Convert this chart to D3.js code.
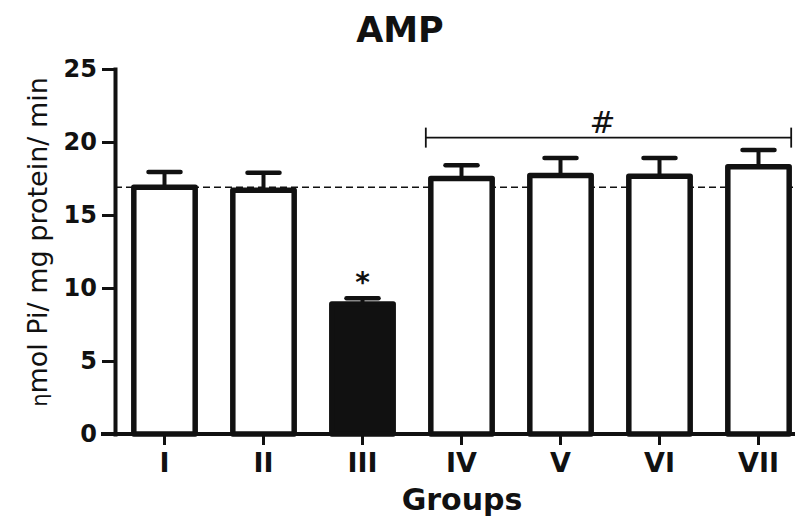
<!DOCTYPE html>
<html>
<head>
<meta charset="utf-8">
<script src="https://cdn.jsdelivr.net/npm/d3@7/dist/d3.min.js"></script>
<style>
    body { margin: 0; background: #fff; }
    text { fill: #111; }
</style>
</head>
<body>
<div id="chart"></div>
<script>
var groups = ['I', 'II', 'III', 'IV', 'V', 'VI', 'VII'];
var means = [16.9, 16.7, 8.9, 17.5, 17.7, 17.65, 18.3];
var sems = [1.05, 1.2, 0.4, 0.9, 1.2, 1.25, 1.15];
var filled = [false, false, true, false, false, false, false];
var yTicks = [0, 5, 10, 15, 20, 25];
var controlLine = 16.9;
var starGroup = 'III';
var bracketGroups = ['IV', 'VII'];
var bracketValue = 20.3;

var width = 795;
var height = 519;
var ink = '#111';

var svg = d3.select('#chart')
    .append('svg')
    .attr('width', width)
    .attr('height', height);

var xScale = d3.scaleBand()
    .domain(groups)
    .range([115, 808])
    .paddingInner(0.38)
    .paddingOuter(0.19);

var yScale = d3.scaleLinear()
    .domain([0, 25])
    .range([434, 69]);

//dashed control line, behind bars
svg.append('line')
    .attr('x1', 115)
    .attr('x2', width)
    .attr('y1', yScale(controlLine))
    .attr('y2', yScale(controlLine))
    .style('stroke', ink)
    .style('stroke-width', 1.6)
    .style('stroke-dasharray', '7,4');

//error bars
var err = svg.append('g');
groups.forEach(function(g, i) {
    var cx = xScale(g) + xScale.bandwidth() / 2;
    err.append('line')
        .attr('x1', cx).attr('x2', cx)
        .attr('y1', yScale(means[i]))
        .attr('y2', yScale(means[i] + sems[i]))
        .style('stroke', ink)
        .style('stroke-width', 4);
    err.append('line')
        .attr('x1', cx - 16).attr('x2', cx + 16)
        .attr('y1', yScale(means[i] + sems[i]))
        .attr('y2', yScale(means[i] + sems[i]))
        .style('stroke', ink)
        .style('stroke-width', 4.5)
        .style('stroke-linecap', 'round');
});

//bars
svg.append('g')
    .selectAll('rect')
    .data(groups)
    .enter()
    .append('rect')
    .attr('x', function(d) { return xScale(d); })
    .attr('y', function(d, i) { return yScale(means[i]); })
    .attr('width', xScale.bandwidth())
    .attr('height', function(d, i) { return yScale(0) - yScale(means[i]); })
    .style('fill', function(d, i) { return filled[i] ? ink : '#fff'; })
    .style('stroke', ink)
    .style('stroke-width', 5.5)
    .style('stroke-linejoin', 'round');

//y axis
var yAxis = d3.axisLeft(yScale)
    .tickValues(yTicks)
    .tickSize(13)
    .tickSizeOuter(0)
    .tickPadding(5);

var yG = svg.append('g')
    .attr('transform', 'translate(115,0)')
    .call(yAxis);
yG.select('.domain')
    .style('stroke', ink)
    .style('stroke-width', 4)
    .style('stroke-linecap', 'square');
yG.selectAll('.tick line')
    .style('stroke', ink)
    .style('stroke-width', 3);
yG.selectAll('.tick text')
    .style('font-family', 'DejaVu Sans')
    .style('font-weight', 'bold')
    .style('font-size', '24px')
    .style('fill', ink);

//x axis
var xAxis = d3.axisBottom(xScale)
    .tickSize(11)
    .tickSizeOuter(0)
    .tickPadding(8);

var xG = svg.append('g')
    .attr('transform', 'translate(0,434)')
    .call(xAxis);
xG.select('.domain').remove();
xG.append('line')
    .attr('x1', 101)
    .attr('x2', width)
    .style('stroke', ink)
    .style('stroke-width', 4);
xG.selectAll('.tick line')
    .style('stroke', ink)
    .style('stroke-width', 3);
xG.selectAll('.tick text')
    .style('font-family', 'DejaVu Sans')
    .style('font-weight', 'bold')
    .style('font-size', '27px')
    .style('fill', ink);

//axis titles
svg.append('text')
    .attr('transform', 'translate(47,242) rotate(-90)')
    .attr('text-anchor', 'middle')
    .style('font-family', 'DejaVu Sans')
    .style('font-size', '27px')
    .html('<tspan style="font-size:21px">η</tspan>mol Pi/ mg protein/ min');

svg.append('text')
    .attr('x', 462)
    .attr('y', 510)
    .attr('text-anchor', 'middle')
    .style('font-family', 'DejaVu Sans')
    .style('font-weight', 'bold')
    .style('font-size', '30px')
    .text('Groups');

//title
svg.append('text')
    .attr('x', 400)
    .attr('y', 42)
    .attr('text-anchor', 'middle')
    .style('font-family', 'DejaVu Sans')
    .style('font-weight', 'bold')
    .style('font-size', '35px')
    .text('AMP');

//significance: star over III
var si = groups.indexOf(starGroup);
svg.append('text')
    .attr('x', xScale(starGroup) + xScale.bandwidth() / 2)
    .attr('y', yScale(means[si] + sems[si]) - 6)
    .attr('text-anchor', 'middle')
    .style('font-family', 'DejaVu Sans')
    .style('font-weight', 'bold')
    .style('font-size', '28px')
    .text('*');

//bracket over IV..VII
var bx1 = xScale(bracketGroups[0]) - 5;
var bx2 = xScale(bracketGroups[1]) + xScale.bandwidth() + 2;
var by = yScale(bracketValue);
var bracket = svg.append('g')
    .style('stroke', ink)
    .style('stroke-width', 1.8);
bracket.append('line').attr('x1', bx1).attr('x2', bx2).attr('y1', by).attr('y2', by);
bracket.append('line').attr('x1', bx1).attr('x2', bx1).attr('y1', by - 10).attr('y2', by + 10);
bracket.append('line').attr('x1', bx2).attr('x2', bx2).attr('y1', by - 10).attr('y2', by + 10);

svg.append('text')
    .attr('x', (bx1 + bx2) / 2 - 6)
    .attr('y', by - 5)
    .attr('text-anchor', 'middle')
    .style('font-family', 'DejaVu Sans')
    .style('font-size', '31px')
    .text('#');
</script>
</body>
</html>
